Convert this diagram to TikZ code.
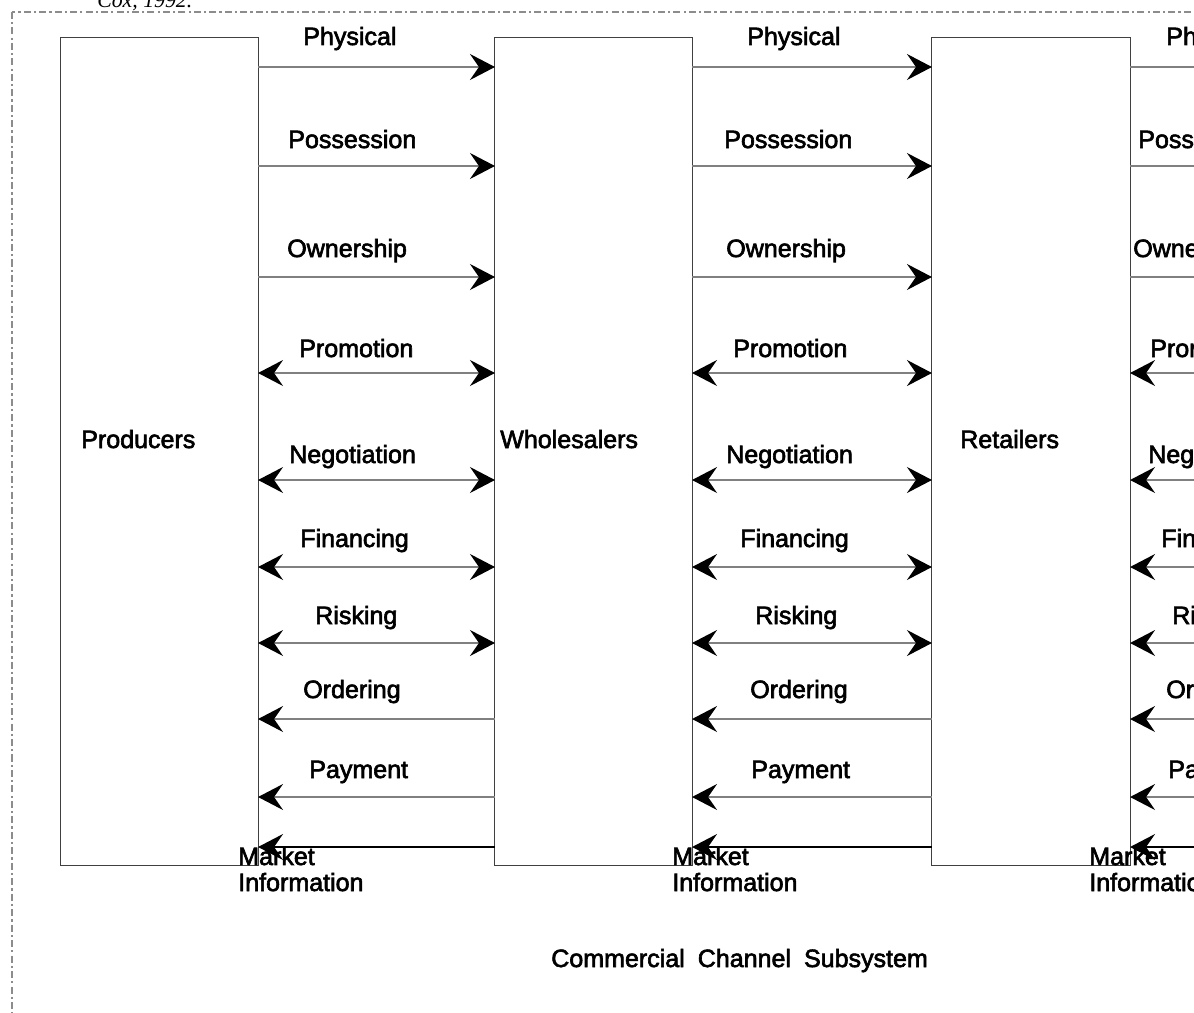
\documentclass[tikz,border=0pt]{standalone}
\usepackage{fontspec}
\setmainfont{Liberation Sans}[FakeBold=2.5]
\newfontfamily\citefont{Liberation Serif}
\usetikzlibrary{arrows.meta, positioning}

\begin{document}
\begin{tikzpicture}[x=0.025cm, y=-0.025cm,
  firm/.style={draw=black!75, line width=0.7pt, minimum width=4.925cm, minimum height=20.675cm, inner sep=0pt, outer sep=0pt},
  tag/.style={anchor=base west, inner sep=0pt, font=\fontsize{17.8}{18.5}\selectfont},
  flow/.style={draw=black!50, line width=1.1pt},
  bigtip/.tip={Stealth[black, length=17.8pt, width=18.5pt, inset=6.4pt]},
  fwd/.style={flow, -bigtip},
  both/.style={flow, bigtip-bigtip},
  back/.style={flow, bigtip-}
]
  \useasboundingbox (0,0) rectangle (1194,1012);
  \clip (0,0) rectangle (1194,1012);

  % outer frame and citation
  \draw[black!45, line width=0.9pt, dash pattern=on 5pt off 2.2pt on 1.6pt off 2.2pt] (12,12) rectangle (1300,1100);
  \node[anchor=base west, inner sep=0pt, font=\citefont\itshape\fontsize{15.5}{16}\selectfont] (cite) at (97,8) {Cox, 1992.};

  % channel members
  \node[firm] (prod) at (159.5,451.5) {};
  \node[firm] (whole) at (593.5,451.5) {};
  \node[firm, minimum width=4.95cm] (ret) at (1031,451.5) {};
  \node[tag] (prodname) at (81,448) {Producers};
  \node[tag] (wholename) at (500,448) {Wholesalers};
  \node[tag] (retname) at (960,448) {Retailers};
  \coordinate (edge) at (1260,0);

  % flows: line y / label baseline / label / arrows / label x per gap
  \foreach \ly/\lb/\txt/\st/\xa/\xb/\xc [count=\i] in {
      67/45/Physical/fwd/303/747/1166,
      166/148/Possession/fwd/288/724/1138,
      277/257/Ownership/fwd/287/726/1133,
      373/357/Promotion/both/299/733/1150,
      480/463/Negotiation/both/289/726/1148,
      567/547/Financing/both/300/740/1161,
      643/624/Risking/both/315/755/1172,
      719/698/Ordering/back/303/750/1166,
      797/778/Payment/back/309/751/1168} {
    \draw[\st] (prod.east |- 0,\ly) -- (whole.west |- 0,\ly);
    \draw[\st] (whole.east |- 0,\ly) -- (ret.west |- 0,\ly);
    \draw[\st] (ret.east |- 0,\ly) -- (edge |- 0,\ly);
    \node[tag] (flowa-\i) at (\xa,\lb) {\txt};
    \node[tag] (flowb-\i) at (\xb,\lb) {\txt};
    \node[tag] (flowc-\i) at (\xc,\lb) {\txt};
  }

  % market information
  \draw[back, draw=black] (prod.east |- 0,847) -- (whole.west |- 0,847);
  \draw[back, draw=black] (whole.east |- 0,847) -- (ret.west |- 0,847);
  \draw[back, draw=black] (ret.east |- 0,847) -- (edge |- 0,847);
  \node[tag, align=left] (marketa) at (238,891) {Market\\Information};
  \node[tag, align=left] (marketb) at (672,891) {Market\\Information};
  \node[tag, align=left] (marketc) at (1089,891) {Market\\Information};

  \node[tag] (subsys) at (551,967) {Commercial\hspace{0.52em}Channel\hspace{0.52em}Subsystem};
\end{tikzpicture}
\end{document}
